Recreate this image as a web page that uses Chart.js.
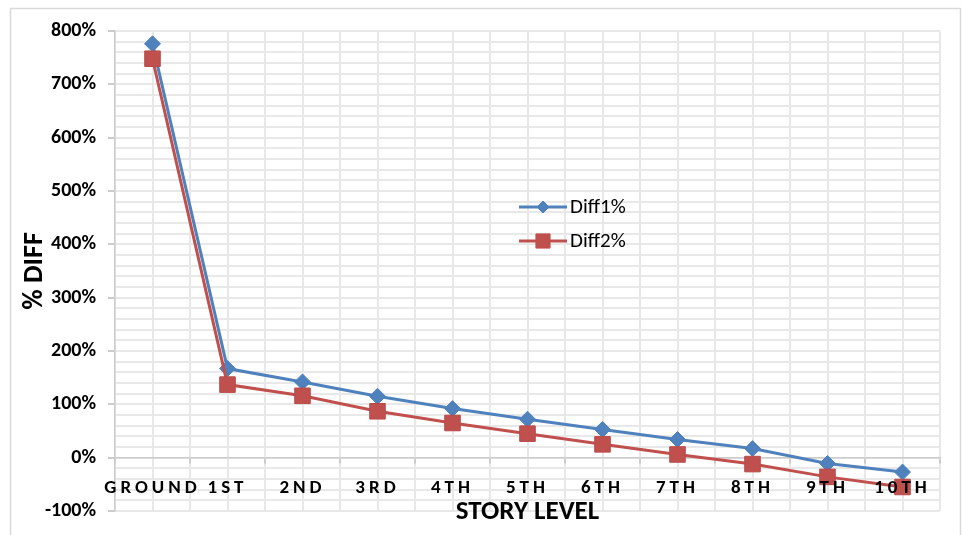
<!DOCTYPE html>
<html><head><meta charset="utf-8">
<script src="https://cdn.jsdelivr.net/npm/chart.js@4/dist/chart.umd.min.js"></script>
<style>html,body{margin:0;padding:0;background:#fff;} canvas{display:block;}</style>
</head><body>
<canvas id="c" width="962" height="535"></canvas>
<script>
// ---- data ----
const categories = ['GROUND','1ST','2ND','3RD','4TH','5TH','6TH','7TH','8TH','9TH','10TH'];
const diff1 = [776, 167, 142, 115, 92, 72, 53, 34, 17, -11, -27];
const diff2 = [748, 137, 116, 87, 65, 45, 25, 6, -12, -36, -55];
const seriesNames = ['Diff1%', 'Diff2%'];
const yMin = -100, yMax = 800, yMajor = 100, yMinor = 20;
const xTitle = 'STORY LEVEL';
const yTitle = '% DIFF';

// ---- style ----
const FONT = 'Carlito, Calibri, Lato, sans-serif';
const BLUE = '#4F81BD', RED = '#C0504D';
const GRID = '#e8e8e8', AXIS = '#cccccc';
const LETTER_SPACING = '4px';

// category scale whose tick labels are letter-spaced and whose title is drawn above the plot
class SpacedCategoryScale extends Chart.CategoryScale {
  drawTitle() {}
  drawLabels(chartArea) {
    const ctx = this.ctx;
    ctx.save();
    try { ctx.letterSpacing = LETTER_SPACING; } catch (e) {}
    super.drawLabels(chartArea);
    ctx.restore();
    Chart.CategoryScale.prototype.drawTitle.call(this);
  }
}
SpacedCategoryScale.id = 'spacedCategory';
SpacedCategoryScale.defaults = Chart.CategoryScale.defaults;
Chart.register(SpacedCategoryScale);

function drawMarker(ctx, style, x, y, r, color) {
  ctx.save();
  ctx.fillStyle = color; ctx.strokeStyle = color; ctx.lineWidth = 1;
  ctx.beginPath();
  if (style === 'rectRot') {
    ctx.moveTo(x, y - r); ctx.lineTo(x + r, y); ctx.lineTo(x, y + r); ctx.lineTo(x - r, y); ctx.closePath();
  } else {
    const s = r * Math.SQRT1_2; ctx.rect(x - s, y - s, 2 * s, 2 * s);
  }
  ctx.fill(); ctx.stroke();
  ctx.restore();
}

const decor = {
  id: 'decor',
  beforeDraw(chart) {
    const c = chart.ctx;
    c.save(); c.strokeStyle = '#d9d9d9'; c.lineWidth = 1.5;
    c.strokeRect(10.5, 8.5, 950, 600); c.restore();
  },
  afterDraw(chart) {
    const c = chart.ctx, a = chart.chartArea;
    const x0 = a.left + 404, x1 = a.left + 452;
    chart.data.datasets.slice().sort((p, q) => p.legendIndex - q.legendIndex).forEach((ds, i) => {
      const y = a.top + 176 + i * 34;
      c.save();
      c.strokeStyle = ds.borderColor; c.lineWidth = 3;
      c.beginPath(); c.moveTo(x0, y); c.lineTo(x1, y); c.stroke();
      drawMarker(c, ds.pointStyle, (x0 + x1) / 2, y, ds.legendRadius, ds.borderColor);
      c.fillStyle = '#000'; c.font = '21px ' + FONT; c.textBaseline = 'middle'; c.textAlign = 'left';
      c.fillText(ds.label, x1 + 3, y + 1);
      c.restore();
    });
  }
};

new Chart(document.getElementById('c'), {
  type: 'line',
  data: {
    labels: categories,
    datasets: [
      { label: seriesNames[0], data: diff1, borderColor: BLUE, backgroundColor: BLUE, borderWidth: 3,
        pointStyle: 'rectRot', pointRadius: 8, pointHoverRadius: 8, pointBorderWidth: 1, pointBorderColor: BLUE,
        tension: 0, order: 2, legendIndex: 0, legendRadius: 6 },
      { label: seriesNames[1], data: diff2, borderColor: RED, backgroundColor: RED, borderWidth: 3,
        pointStyle: 'rect', pointRadius: 11, pointHoverRadius: 11, pointBorderWidth: 1, pointBorderColor: '#b9494a',
        tension: 0, order: 1, legendIndex: 1, legendRadius: 10 }
    ]
  },
  options: {
    responsive: false, animation: false, clip: false,
    layout: { padding: { top: 31, right: 22, bottom: 23, left: 0 } },
    plugins: { legend: { display: false }, tooltip: { enabled: false } },
    scales: {
      x2: {
        type: 'category', labels: categories, offset: true, position: 'top',
        grid: { offset: false, color: GRID, lineWidth: 2, drawTicks: false },
        ticks: { display: false }, border: { display: false },
        afterFit: s => { s.height = 0; }
      },
      x: {
        type: 'spacedCategory', position: { y: 0 }, offset: true,
        grid: { offset: true, color: GRID, lineWidth: 2, drawTicks: true, tickLength: 5, tickColor: AXIS },
        border: { display: true, color: AXIS, width: 1.5 },
        ticks: { font: { family: FONT, size: 19, weight: 'bold' }, color: '#000', padding: 14,
                 maxRotation: 0, minRotation: 0, autoSkip: false, z: 1 },
        title: { display: true, text: xTitle, color: '#000', font: { family: FONT, size: 27, weight: 'bold' },
                 padding: { top: -17, bottom: 0 } }
      },
      y: {
        min: yMin, max: yMax,
        ticks: { stepSize: yMinor, autoSkip: false, color: '#000', padding: 12,
                 font: { family: FONT, size: 20, weight: 'bold' },
                 callback: v => (Math.round(v) % yMajor === 0 ? Math.round(v) + '%' : '') },
        grid: { color: GRID, lineWidth: 2, tickLength: 7,
                tickColor: ctx => (ctx.tick && Math.round(ctx.tick.value) % yMajor === 0) ? AXIS : 'rgba(0,0,0,0)' },
        border: { color: AXIS, width: 1.5 },
        title: { display: true, text: yTitle, color: '#000', font: { family: FONT, size: 28, weight: 'bold' },
                 padding: { top: 18, bottom: 0 } },
        afterFit: s => { s.width = 115; }
      }
    }
  },
  plugins: [decor]
});
</script>
</body></html>
